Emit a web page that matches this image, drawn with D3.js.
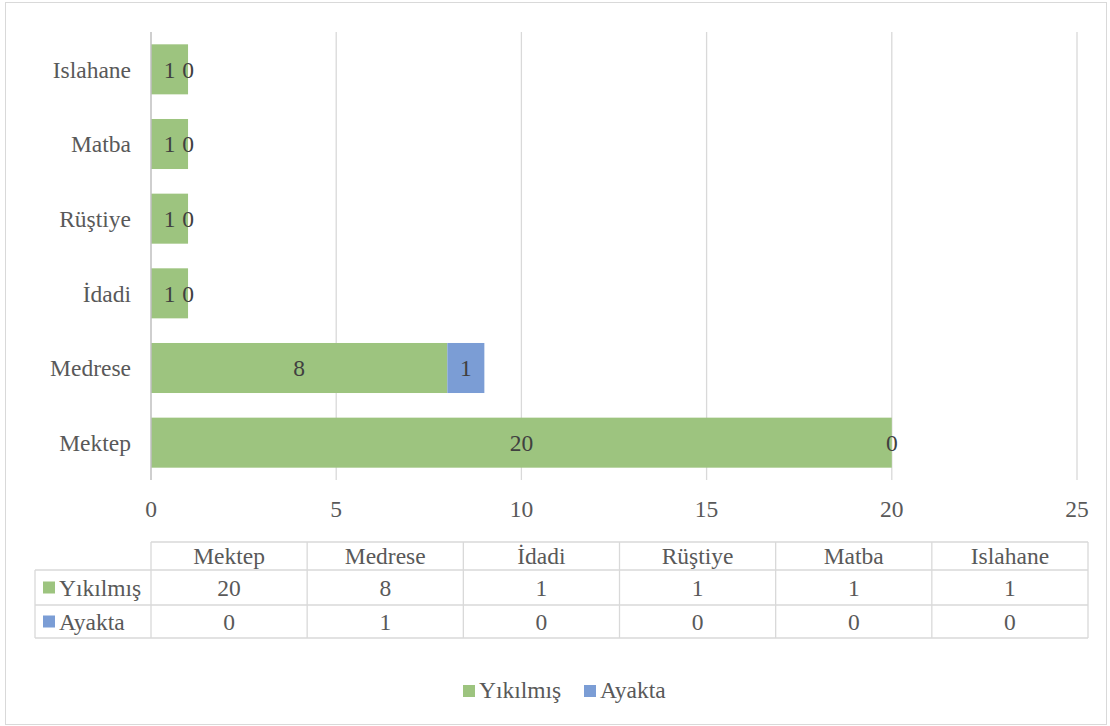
<!DOCTYPE html>
<html>
<head>
<meta charset="utf-8">
<script src="https://cdn.jsdelivr.net/npm/d3@7"></script>
<style>
  body { margin: 0; background: #fff; }
  svg { display: block; }
</style>
</head>
<body>
<svg id="chart" width="1110" height="726" font-family="'Times New Roman', 'Liberation Serif', 'DejaVu Serif', serif"></svg>
<script>
// Building types and counts (stacked bars, bottom to top: Mektep ... Islahane)
const categories = ["Mektep", "Medrese", "İdadi", "Rüştiye", "Matba", "Islahane"];
const yikilmis = [20, 8, 1, 1, 1, 1];
const ayakta = [0, 1, 0, 0, 0, 0];
const seriesNames = ["Yıkılmış", "Ayakta"];
const seriesColors = ["#9dc47f", "#7b9dd5"];
const xTicks = [0, 5, 10, 15, 20, 25];

const svg = d3.select("#chart");
const W = 1110, H = 726;
const fontSize = 23.5;
const textColor = "#595959";

// outer chart border
svg.append("rect")
  .attr("x", 5.5).attr("y", 2.5)
  .attr("width", W - 9).attr("height", H - 4)
  .attr("fill", "#fff").attr("stroke", "#d9d9d9");

const plot = { left: 151, right: 1077, top: 32, bottom: 480 };

const x = d3.scaleLinear().domain([0, 25]).range([plot.left, plot.right]);
const y = d3.scaleBand()
  .domain(categories.slice().reverse())
  .range([plot.top, plot.bottom])
  .paddingInner(0.33).paddingOuter(0.165);

// vertical gridlines
svg.append("g").selectAll("line")
  .data(xTicks.filter(d => d > 0))
  .join("line")
  .attr("x1", d => x(d)).attr("x2", d => x(d))
  .attr("y1", plot.top).attr("y2", plot.bottom)
  .attr("stroke", "#d9d9d9").attr("stroke-width", 1.3);

// stacked data
const rows = categories.map((c, i) => ({ cat: c, Yıkılmış: yikilmis[i], Ayakta: ayakta[i] }));
const stack = d3.stack().keys(seriesNames)(rows);

const layers = svg.append("g").selectAll("g")
  .data(stack).join("g")
  .attr("fill", (d, i) => seriesColors[i]);

layers.selectAll("rect")
  .data(d => d)
  .join("rect")
  .attr("x", d => x(d[0]))
  .attr("width", d => x(d[1]) - x(d[0]))
  .attr("y", d => y(d.data.cat))
  .attr("height", y.bandwidth());

// vertical axis line
svg.append("line")
  .attr("x1", plot.left).attr("x2", plot.left)
  .attr("y1", plot.top).attr("y2", plot.bottom)
  .attr("stroke", "#bfbfbf").attr("stroke-width", 1.5);

// data labels centred in each segment
const labels = svg.append("g");
stack.forEach(layer => {
  layer.forEach(d => {
    labels.append("text")
      .attr("x", (x(d[0]) + x(d[1])) / 2)
      .attr("y", y(d.data.cat) + y.bandwidth() / 2)
      .attr("dy", "0.35em")
      .attr("text-anchor", "middle")
      .attr("font-size", fontSize)
      .attr("fill", "#404040")
      .text(d[1] - d[0]);
  });
});

// category labels
svg.append("g").selectAll("text")
  .data(categories)
  .join("text")
  .attr("x", plot.left - 20)
  .attr("y", d => y(d) + y.bandwidth() / 2)
  .attr("dy", "0.35em")
  .attr("text-anchor", "end")
  .attr("font-size", fontSize)
  .attr("fill", textColor)
  .text(d => d);

// x tick labels
svg.append("g").selectAll("text")
  .data(xTicks)
  .join("text")
  .attr("x", d => x(d))
  .attr("y", 509)
  .attr("dy", "0.35em")
  .attr("text-anchor", "middle")
  .attr("font-size", fontSize)
  .attr("fill", textColor)
  .text(d => d);

// data table
const table = { left: 151, right: 1088, keyLeft: 35, rowY: [542, 570, 605, 638] };
const colX = d3.scaleBand().domain(categories).range([table.left, table.right]);
const tg = svg.append("g");
const stroke = "#d9d9d9";

// horizontal lines
tg.append("line").attr("x1", table.left).attr("x2", table.right)
  .attr("y1", table.rowY[0]).attr("y2", table.rowY[0]).attr("stroke", stroke).attr("stroke-width", 1.3);
table.rowY.slice(1).forEach(yy => {
  tg.append("line").attr("x1", table.keyLeft).attr("x2", table.right)
    .attr("y1", yy).attr("y2", yy).attr("stroke", stroke).attr("stroke-width", 1.3);
});
// vertical lines
tg.append("line").attr("x1", table.keyLeft).attr("x2", table.keyLeft)
  .attr("y1", table.rowY[1]).attr("y2", table.rowY[3]).attr("stroke", stroke).attr("stroke-width", 1.3);
categories.concat([null]).forEach(c => {
  const xx = c ? colX(c) : table.right;
  tg.append("line").attr("x1", xx).attr("x2", xx)
    .attr("y1", table.rowY[0]).attr("y2", table.rowY[3]).attr("stroke", stroke).attr("stroke-width", 1.3);
});

const mid = (a, b) => (a + b) / 2;
// header
tg.selectAll("text.h").data(categories).join("text")
  .attr("class", "h")
  .attr("x", d => colX(d) + colX.bandwidth() / 2)
  .attr("y", mid(table.rowY[0], table.rowY[1]))
  .attr("dy", "0.35em").attr("text-anchor", "middle").attr("font-size", fontSize)
  .attr("fill", textColor)
  .text(d => d);

[yikilmis, ayakta].forEach((vals, r) => {
  const cy = mid(table.rowY[r + 1], table.rowY[r + 2]);
  tg.append("rect").attr("x", 43).attr("y", cy - 6).attr("width", 12).attr("height", 12)
    .attr("fill", seriesColors[r]);
  tg.append("text").attr("x", 59).attr("y", cy).attr("dy", "0.35em")
    .attr("font-size", fontSize).attr("fill", textColor).text(seriesNames[r]);
  tg.selectAll(null).data(vals).join("text")
    .attr("x", (d, i) => colX(categories[i]) + colX.bandwidth() / 2)
    .attr("y", cy).attr("dy", "0.35em").attr("text-anchor", "middle")
    .attr("font-size", fontSize).attr("fill", textColor).text(d => d);
});

// legend
const legend = svg.append("g");
const legendItems = [{ x: 463, name: seriesNames[0], c: seriesColors[0] }, { x: 584, name: seriesNames[1], c: seriesColors[1] }];
legendItems.forEach(it => {
  legend.append("rect").attr("x", it.x).attr("y", 685).attr("width", 12).attr("height", 12).attr("fill", it.c);
  legend.append("text").attr("x", it.x + 16).attr("y", 690).attr("dy", "0.35em")
    .attr("font-size", fontSize).attr("fill", textColor).text(it.name);
});
</script>
</body>
</html>
